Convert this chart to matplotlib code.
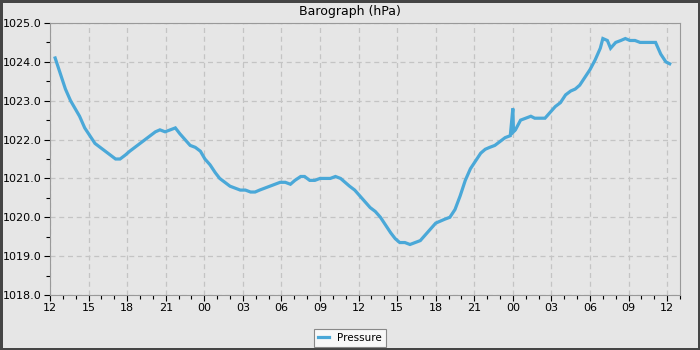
import matplotlib.pyplot as plt
import numpy as np

# hours since 12:00 on day one, pressure in hPa
hours = [0.4, 0.8, 1.2, 1.6, 1.95, 2.3, 2.7, 3.1, 3.5, 3.9, 4.3, 4.7, 5.1, 5.45,
         5.85, 6.2, 6.6, 7.0, 7.4, 7.8, 8.2, 8.55, 8.95, 9.35, 9.75, 10.1, 10.5,
         10.9, 11.3, 11.7, 12.05, 12.45, 12.85, 13.2, 13.6, 14.0, 14.4, 14.8,
         15.2, 15.6, 15.95, 16.3, 16.7, 17.1, 17.5, 17.9, 18.3, 18.7, 19.05,
         19.5, 19.8, 20.2, 20.6, 21.0, 21.4, 21.8, 22.2, 22.6, 22.95, 23.3,
         23.7, 24.1, 24.5, 24.9, 25.3, 25.7, 26.1, 26.5, 26.85, 27.2, 27.6,
         28.0, 28.4, 28.8, 29.2, 29.6, 30.0, 30.35, 30.7, 31.1, 31.5, 31.9,
         32.3, 32.7, 33.1, 33.5, 33.85, 34.2, 34.6, 35.0, 35.4, 35.8, 36.0,
         36.05, 36.2, 36.6, 37.0, 37.4, 37.7, 38.1, 38.5, 38.9, 39.3, 39.7,
         40.1, 40.5, 40.85, 41.2, 41.6, 42.0, 42.4, 42.8, 43.0, 43.35, 43.6,
         44.0, 44.4, 44.75, 45.1, 45.5, 45.9, 46.3, 46.7, 47.1, 47.5, 47.9, 48.2]
pressure = [1024.1, 1023.7, 1023.3, 1023.0, 1022.8, 1022.6, 1022.3, 1022.1, 1021.9,
            1021.8, 1021.7, 1021.6, 1021.5, 1021.5, 1021.6, 1021.7, 1021.8, 1021.9,
            1022.0, 1022.1, 1022.2, 1022.25, 1022.2, 1022.25, 1022.3, 1022.15,
            1022.0, 1021.85, 1021.8, 1021.7, 1021.5, 1021.35, 1021.15, 1021.0,
            1020.9, 1020.8, 1020.75, 1020.7, 1020.7, 1020.65, 1020.65, 1020.7,
            1020.75, 1020.8, 1020.85, 1020.9, 1020.9, 1020.85, 1020.95, 1021.05,
            1021.05, 1020.95, 1020.95, 1021.0, 1021.0, 1021.0, 1021.05, 1021.0,
            1020.9, 1020.8, 1020.7, 1020.55, 1020.4, 1020.25, 1020.15, 1020.0,
            1019.8, 1019.6, 1019.45, 1019.35, 1019.35, 1019.3, 1019.35, 1019.4,
            1019.55, 1019.7, 1019.85, 1019.9, 1019.95, 1020.0, 1020.2, 1020.55,
            1020.95, 1021.25, 1021.45, 1021.65, 1021.75, 1021.8, 1021.85, 1021.95,
            1022.05, 1022.1, 1022.8, 1022.2, 1022.25, 1022.5, 1022.55, 1022.6,
            1022.55, 1022.55, 1022.55, 1022.7, 1022.85, 1022.95, 1023.15, 1023.25,
            1023.3, 1023.4, 1023.6, 1023.8, 1024.05, 1024.35, 1024.6, 1024.55,
            1024.35, 1024.5, 1024.55, 1024.6, 1024.55, 1024.55, 1024.5, 1024.5,
            1024.5, 1024.5, 1024.2, 1024.0, 1023.95]
tick_hours = list(range(0, 49, 3))
tick_labels = ["12", "15", "18", "21", "00", "03", "06", "09",
               "12", "15", "18", "21", "00", "03", "06", "09", "12"]

bg = '#e6e6e6'
fig = plt.figure(figsize=(7, 3.5), dpi=100, facecolor=bg,
                 edgecolor='#454545', linewidth=2.5)
ax = fig.add_axes([50 / 700, 1 - 295 / 350, 630 / 700, 272 / 350])
ax.set_facecolor(bg)

ax.plot(hours, pressure, color='#4aa8d8', linewidth=2.3,
        solid_joinstyle='miter', label='Pressure')

ax.set_xlim(0, 49)
ax.set_ylim(1018, 1025)
ax.set_xticks(tick_hours)
ax.set_xticklabels(tick_labels)
ax.set_xticks(np.arange(0, 50, 1), minor=True)
ax.set_yticks(np.arange(1018, 1025.5, 1))
ax.set_yticklabels(['%.1f' % v for v in np.arange(1018, 1025.5, 1)])
ax.set_yticks(np.arange(1018, 1025.1, 0.5), minor=True)
ax.tick_params(labelsize=8, length=4, width=0.8, color='black', pad=2)
ax.tick_params(which='minor', length=3, width=0.8)

for s in ax.spines.values():
    s.set_color('#999999')
ax.grid(True, which='major', color='#c4c4c4', linestyle=(0, (4, 3)), linewidth=0.9)
ax.set_axisbelow(True)

fig.text(0.5, 1 - 11 / 350, 'Barograph (hPa)', ha='center', va='center', fontsize=9)
leg = fig.legend(loc='center', bbox_to_anchor=(0.5, 1 - 338 / 350), fontsize=7.5,
                 fancybox=False, framealpha=1, facecolor='#f8f8f8',
                 edgecolor='#888888', handlelength=1.0, borderpad=0.4)
leg.get_frame().set_linewidth(0.8)

plt.savefig('out.png', dpi=100)
